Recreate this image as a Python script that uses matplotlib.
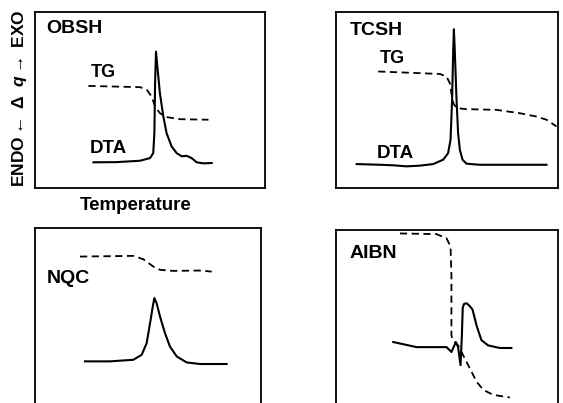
import matplotlib
matplotlib.use('Agg')
import matplotlib.pyplot as plt

plt.rcParams['font.family'] = ['Liberation Sans', 'DejaVu Sans']
plt.rcParams['font.weight'] = 'bold'
plt.rcParams['mathtext.fontset'] = 'custom'
plt.rcParams['mathtext.rm'] = 'Liberation Sans:bold'
plt.rcParams['mathtext.it'] = 'Liberation Sans:italic:bold'
plt.rcParams['mathtext.bf'] = 'Liberation Sans:bold'
plt.rcParams['mathtext.fallback'] = 'stixsans'

# curves, x and y in percent of each panel
obsh_tg_x = [23.2, 45.7, 48.6, 50.7, 52.2, 54.3, 57.2, 63.0, 75.4]
obsh_tg_y = [58.0, 57.3, 55.8, 52.0, 46.3, 42.5, 40.3, 39.1, 38.8]
obsh_dta_x = [25.4, 35.5, 45.7, 50.0, 51.4, 51.9, 52.2, 52.6, 53.2, 54.3, 55.8, 57.2,
              59.4, 61.6, 63.8, 65.9, 68.1, 70.3, 73.2, 76.8]
obsh_dta_y = [14.6, 14.7, 15.5, 17.0, 19.8, 31.2, 59.5, 77.5, 69.0, 53.9, 40.6, 31.2,
              23.6, 19.8, 18.0, 18.3, 17.0, 14.6, 14.0, 14.2]

tcsh_tg_x = [19.0, 46.8, 49.8, 51.3, 52.0, 52.8, 54.3, 58.8, 72.3, 82.8, 90.3, 94.8, 99.3]
tcsh_tg_y = [66.2, 64.8, 63.3, 59.5, 53.9, 48.2, 45.4, 44.8, 44.4, 42.5, 40.6, 38.8, 35.0]
tcsh_dta_x = [9.3, 19.8, 25.8, 31.8, 37.8, 43.8, 48.3, 50.5, 51.6, 52.3, 52.8, 53.1, 53.5,
              54.3, 55.0, 55.8, 57.0, 58.8, 64.8, 79.8, 94.8]
tcsh_dta_y = [13.6, 13.2, 12.9, 12.3, 12.7, 13.6, 16.1, 19.8, 27.4, 50.1, 78.4, 90.2, 78.4,
              50.1, 31.2, 21.7, 16.1, 13.8, 13.2, 13.2, 13.2]

nqc_tg_x = [19.9, 43.5, 47.9, 52.4, 55.3, 61.1, 73.0, 78.2]
nqc_tg_y = [84.0, 84.4, 82.5, 78.3, 76.5, 75.9, 76.1, 75.5]
nqc_dta_x = [22.1, 33.2, 43.5, 47.2, 49.4, 50.9, 52.1, 52.8, 53.8, 55.3, 57.5, 59.7,
             62.7, 67.1, 73.0, 84.8]
nqc_dta_y = [24.7, 24.7, 25.6, 28.4, 35.0, 46.3, 55.7, 60.5, 57.6, 50.1, 40.7, 33.1,
             27.5, 24.1, 23.2, 23.2]

aibn_tg_x = [28.8, 45.3, 49.8, 51.6, 52.0, 52.0, 52.0, 52.8, 55.0, 57.3, 60.3, 63.3,
             66.3, 70.8, 78.3]
aibn_tg_y = [98.1, 97.7, 95.3, 90.6, 73.6, 54.8, 39.7, 36.9, 34.1, 28.4, 20.9, 13.4,
             8.7, 5.8, 4.3]
aibn_dta_x = [25.8, 36.3, 49.8, 52.0, 54.0, 55.0, 56.1, 56.7, 57.1, 57.7, 58.8, 60.0,
              61.5, 63.3, 65.5, 68.5, 73.8, 79.0]
aibn_dta_y = [36.0, 33.1, 33.1, 30.3, 36.0, 33.1, 22.8, 39.7, 55.7, 57.8, 58.2, 56.9,
              54.6, 45.5, 37.1, 34.1, 32.6, 32.6]

fig = plt.figure(figsize=(5.63, 4.03), dpi=100)


def panel(rect, tg_x, tg_y, dta_x, dta_y):
    ax = fig.add_axes(rect)
    ax.plot(tg_x, tg_y, color='black', lw=1.3, ls=(0, (4, 2.5)))
    ax.plot(dta_x, dta_y, color='black', lw=1.5)
    ax.set_xlim(0, 100)
    ax.set_ylim(0, 100)
    ax.set_xticks([])
    ax.set_yticks([])
    for s in ax.spines.values():
        s.set_linewidth(1.3)
    return ax


ax1 = panel([0.0622, 0.5335, 0.4085, 0.4367], obsh_tg_x, obsh_tg_y, obsh_dta_x, obsh_dta_y)
ax1.text(5.1, 95.5, 'OBSH', fontsize=14, fontweight='bold', va='top')
ax1.text(24.2, 65.8, 'TG', fontsize=13, fontweight='bold', va='center')
ax1.text(23.9, 22.3, 'DTA', fontsize=13.5, fontweight='bold', va='center')

ax2 = panel([0.5968, 0.5335, 0.3943, 0.4367], tcsh_tg_x, tcsh_tg_y, tcsh_dta_x, tcsh_dta_y)
ax2.text(6.3, 94.5, 'TCSH', fontsize=14, fontweight='bold', va='top')
ax2.text(19.8, 73.3, 'TG', fontsize=13, fontweight='bold', va='center')
ax2.text(18.3, 19.8, 'DTA', fontsize=13.5, fontweight='bold', va='center')

ax3 = panel([0.0622, -0.005, 0.4014, 0.4385], nqc_tg_x, nqc_tg_y, nqc_dta_x, nqc_dta_y)
ax3.text(5.2, 71.8, 'NQC', fontsize=14, fontweight='bold', va='center')

ax4 = panel([0.5968, -0.005, 0.3943, 0.434], aibn_tg_x, aibn_tg_y, aibn_dta_x, aibn_dta_y)
ax4.text(6.3, 86.4, 'AIBN', fontsize=14, fontweight='bold', va='center')

fig.text(0.2416, 0.491, 'Temperature', fontsize=13.5, fontweight='bold',
         ha='center', va='center')
fig.text(0.0355, 0.757, r'ENDO$\leftarrow$ $\mathit{\Delta}$  $\mathit{q}$$\rightarrow$ EXO',
         fontsize=12.5, fontweight='bold', rotation=90, ha='center', va='center')

fig.savefig('out.png', dpi=100)
